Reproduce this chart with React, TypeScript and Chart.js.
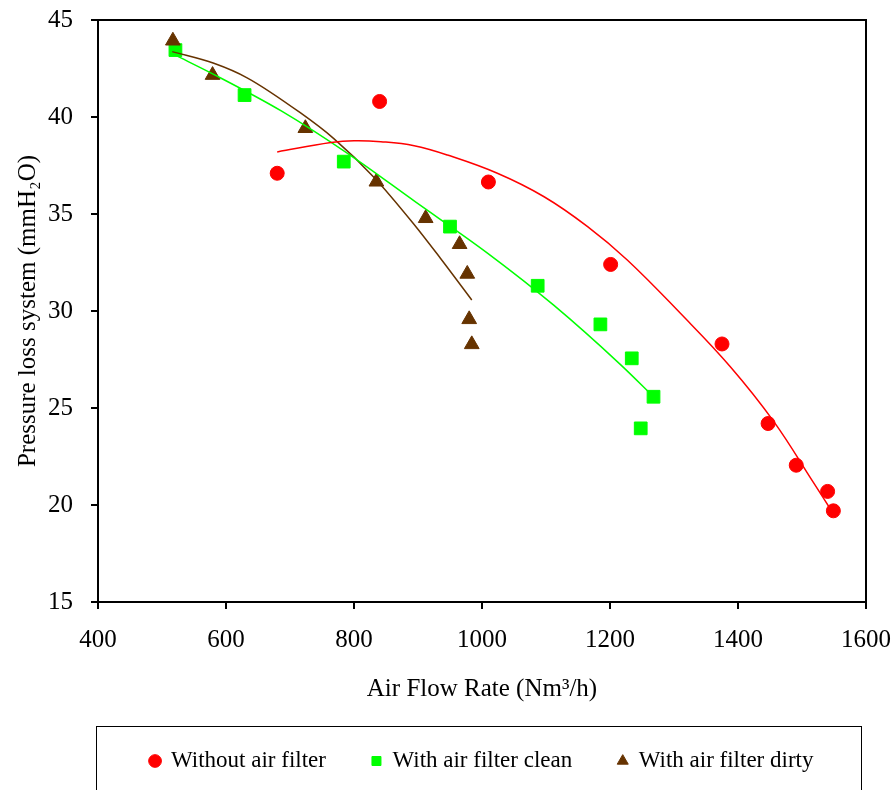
import React, { useEffect, useRef } from "react";
import { Chart, registerables } from "chart.js";

Chart.register(...registerables);

// ---- Data ----
const seriesNames = ["Without air filter", "With air filter clean", "With air filter dirty"];

const redX = [680, 840, 1010, 1201, 1375, 1447, 1491, 1540, 1549];
const redY = [37.1, 40.8, 36.65, 32.4, 28.3, 24.2, 22.05, 20.7, 19.7];

const greenX = [521, 629, 784, 950, 1087, 1185, 1234, 1268, 1248];
const greenY = [43.45, 41.13, 37.7, 34.35, 31.3, 29.31, 27.56, 25.58, 23.95];

const brownX = [517, 579, 724, 835, 912, 965, 977, 980, 984];
const brownY = [43.93, 42.16, 39.42, 36.66, 34.78, 33.44, 31.91, 29.57, 28.28];

// trendlines
const redFitX = [680, 764, 800, 842, 894, 946, 1024, 1097, 1165, 1227, 1310, 1388, 1456, 1518, 1549];
const redFitY = [38.2, 38.68, 38.78, 38.73, 38.52, 38.04, 37.1, 35.89, 34.35, 32.63, 29.88, 27.13, 24.3, 21.15, 19.55];

const greenFitX = [520, 583, 687, 791, 895, 1008, 1112, 1216, 1269];
const greenFitY = [43.2, 42.16, 40.3, 38.1, 35.65, 33.0, 30.3, 27.25, 25.55];

const brownFitX = [516, 581, 633, 716, 768, 831, 893, 935, 984];
const brownFitY = [43.37, 42.77, 42.02, 40.22, 38.9, 36.9, 34.5, 32.72, 30.57];

const xMin = 400;
const xMax = 1600;
const xStep = 200;
const yMin = 15;
const yMax = 45;
const yStep = 5;

const xTitle = "Air Flow Rate (Nm³/h)";
const yTitle = "Pressure loss system (mmH₂O)";

const RED = "#FF0000";
const GREEN = "#00FF00";
const BROWN = "#663300";

const FONT = "'Liberation Serif', 'Times New Roman', Times, serif";

const pts = (xs: number[], ys: number[]) => xs.map((x, i) => ({ x, y: ys[i] }));

const framePlugin = {
  id: "frame",
  afterDraw(chart: any) {
    const { ctx, chartArea } = chart;
    const { left, right, top, bottom } = chartArea;
    ctx.save();
    ctx.strokeStyle = "#000";
    ctx.lineWidth = 2;
    ctx.beginPath();
    ctx.moveTo(left - 1, top);
    ctx.lineTo(right, top);
    ctx.lineTo(right, bottom);
    ctx.stroke();
    // legend frame
    ctx.lineWidth = 1;
    ctx.strokeRect(left - 1.5, 726.5, right - left - 3, 120);
    ctx.restore();
  },
};

const fitLine = (label: string, xs: number[], ys: number[], color: string, smooth: any) => ({
  label,
  data: pts(xs, ys),
  showLine: true,
  pointRadius: 0,
  borderColor: color,
  backgroundColor: color,
  borderWidth: 1.5,
  ...smooth,
  order: 1,
});

export default function App() {
  const ref = useRef<HTMLCanvasElement | null>(null);

  useEffect(() => {
    document.body.style.margin = "0";
    const canvas = ref.current;
    if (!canvas) return;
    const chart = new Chart(canvas, {
      type: "scatter",
      data: {
        datasets: [
          {
            label: seriesNames[0],
            data: pts(redX, redY),
            pointStyle: "circle",
            pointRadius: 7,
            backgroundColor: RED,
            borderColor: RED,
            borderWidth: 1,
            order: 4,
          },
          {
            label: seriesNames[1],
            data: pts(greenX, greenY),
            pointStyle: "rect",
            pointRadius: 9,
            backgroundColor: GREEN,
            borderColor: GREEN,
            borderWidth: 1,
            order: 3,
          },
          {
            label: seriesNames[2],
            data: pts(brownX, brownY),
            pointStyle: "triangle",
            pointRadius: 8.5,
            backgroundColor: BROWN,
            borderColor: BROWN,
            borderWidth: 1,
            order: 2,
          },
          fitLine("Poly. (" + seriesNames[0] + ")", redFitX, redFitY, RED, { tension: 0.4 }),
          fitLine("Poly. (" + seriesNames[1] + ")", greenFitX, greenFitY, GREEN, { cubicInterpolationMode: "monotone" }),
          fitLine("Poly. (" + seriesNames[2] + ")", brownFitX, brownFitY, BROWN, { cubicInterpolationMode: "monotone" }),
        ] as any,
      },
      options: {
        responsive: false,
        animation: false,
        layout: { padding: { top: 20, right: 30, left: 0, bottom: 7.5 } },
        plugins: {
          tooltip: { enabled: false },
          legend: {
            position: "bottom",
            fullSize: false,
            labels: {
              usePointStyle: true,
              boxWidth: 9,
              boxHeight: 9,
              padding: 46,
              color: "#000",
              font: { family: FONT, size: 23 },
              filter: (item: any) => item.datasetIndex < 3,
              sort: (a: any, b: any) => a.datasetIndex - b.datasetIndex,
            },
          },
        },
        scales: {
          x: {
            type: "linear",
            min: xMin,
            max: xMax,
            afterFit: (scale: any) => {
              scale.height = 101.5;
              scale.paddingLeft = 0;
              scale.paddingRight = 0;
            },
            ticks: {
              stepSize: xStep,
              padding: 16.5,
              color: "#000",
              font: { family: FONT, size: 25 },
              callback: (v: any) => String(v),
            },
            grid: {
              display: true,
              drawOnChartArea: false,
              drawTicks: true,
              tickLength: 7,
              color: "#000",
              lineWidth: 2,
            },
            border: { display: true, color: "#000", width: 2 },
            title: {
              display: true,
              text: xTitle,
              color: "#000",
              font: { family: FONT, size: 25 },
              padding: { top: 0, bottom: -1.1 },
            },
          },
          y: {
            type: "linear",
            min: yMin,
            max: yMax,
            afterFit: (scale: any) => {
              scale.width = 98;
              scale.paddingTop = 0;
              scale.paddingBottom = 0;
            },
            ticks: {
              stepSize: yStep,
              padding: 18,
              color: "#000",
              font: { family: FONT, size: 25 },
              callback: (v: any) => String(v),
            },
            grid: {
              display: true,
              drawOnChartArea: false,
              drawTicks: true,
              tickLength: 7,
              color: "#000",
              lineWidth: 2,
            },
            border: { display: true, color: "#000", width: 2 },
            title: {
              display: true,
              text: yTitle,
              color: "#000",
              font: { family: FONT, size: 25 },
              padding: { top: 13.5, bottom: 0 },
            },
          },
        },
      } as any,
      plugins: [framePlugin],
    });
    return () => chart.destroy();
  }, []);

  return (
    <div style={{ width: 896, height: 790 }}>
      <canvas ref={ref} width={896} height={790} style={{ display: "block" }} />
    </div>
  );
}
